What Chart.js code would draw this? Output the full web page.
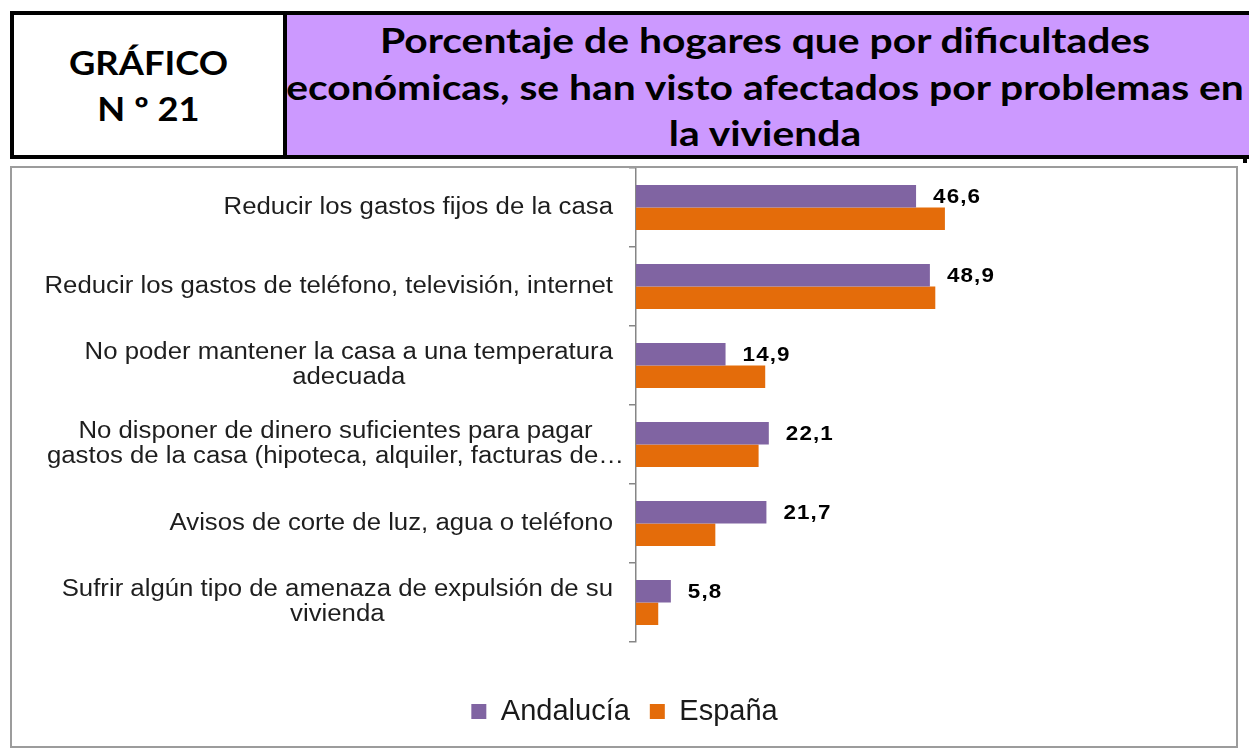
<!DOCTYPE html>
<html>
<head>
<meta charset="utf-8">
<script src="https://cdn.jsdelivr.net/npm/chart.js@4"></script>
<style>
  body { margin: 0; background: #fff; width: 1249px; height: 749px; overflow: hidden; position: relative; }
  #hdr { position: absolute; left: 10px; top: 11px; width: 1260px; height: 140px; border: 4px solid #000; display: flex; }
  #num { width: 269px; display: flex; align-items: center; justify-content: center; text-align: center;
         font: bold 33px Lato, sans-serif; line-height: 46px; color: #000; transform: scaleX(1.1); }
  #ttl { flex: 1; background: #cc99ff; border-left: 4px solid #000; position: relative; }
  #ttl div { position: absolute; left: 0; width: 956px; top: 2px; text-align: center; white-space: nowrap;
             font: bold 34px Lato, sans-serif; line-height: 46.5px; color: #000; transform: scaleX(1.2); }
  #frame { position: absolute; left: 10px; top: 166px; width: 1224px; height: 578px; border: 2px solid #9c9c9c; }
  #box { position: absolute; left: 12px; top: 168px; width: 1225px; height: 577px; }
  #mark { position: absolute; left: 1243px; top: 155px; width: 4px; height: 8px; background: #000; }
</style>
</head>
<body>
<div id="hdr">
  <div id="num">GRÁFICO<br>N º 21</div>
  <div id="ttl"><div>Porcentaje de hogares que por dificultades<br>económicas, se han visto afectados por problemas en<br>la vivienda</div></div>
</div>
<div id="mark"></div>
<div id="frame"></div>
<div id="box"><canvas id="chart"></canvas></div>
<script>
const categories = [
    ["Reducir los gastos fijos de la casa"],
    ["Reducir los gastos de teléfono, televisión, internet"],
    ["No poder mantener la casa a una temperatura", "adecuada"],
    ["No disponer de dinero suficientes para pagar", "gastos de la casa (hipoteca, alquiler, facturas de…"],
    ["Avisos de corte de luz, agua o teléfono"],
    ["Sufrir algún tipo de amenaza de expulsión de su", "vivienda"]
];
const andalucia = [46.6, 48.9, 14.9, 22.1, 21.7, 5.8];
const espana    = [51.4, 49.8, 21.5, 20.4, 13.2, 3.7];
const seriesNames = ["Andalucía", "España"];

const STRETCH = 1.12;

// category labels: right-aligned blocks, lines centred inside each block
const catLabels = {
    id: "catLabels",
    afterDraw(chart) {
        const ctx = chart.ctx, y = chart.scales.y;
        const right = 601, lineH = 25;
        ctx.save();
        ctx.font = "23px 'Liberation Sans', Arial, sans-serif";
        ctx.fillStyle = "#1e1e1e";
        ctx.textAlign = "center";
        ctx.textBaseline = "middle";
        categories.forEach((lines, i) => {
            let w = Math.max(...lines.map(l => ctx.measureText(l).width * STRETCH));
            if (lines.length > 1) w = Math.min(w, 555);   // wrapped text overflows the label area
            const cx = right - w / 2;
            const cy = y.getPixelForValue(i);
            lines.forEach((l, j) => {
                ctx.save();
                ctx.translate(cx, cy + (j - (lines.length - 1) / 2) * lineH);
                ctx.scale(STRETCH, 1);
                ctx.fillText(l, 0, 0);
                ctx.restore();
            });
        });
        ctx.restore();
    }
};

// value labels next to the Andalucía bars
const valueLabels = {
    id: "valueLabels",
    afterDatasetsDraw(chart) {
        const ctx = chart.ctx;
        ctx.save();
        ctx.font = "bold 20px 'Liberation Sans', Arial, sans-serif";
        ctx.letterSpacing = "1px";
        ctx.fillStyle = "#000";
        ctx.textAlign = "left";
        ctx.textBaseline = "middle";
        chart.getDatasetMeta(0).data.forEach((bar, i) => {
            ctx.save();
            ctx.translate(bar.x + 17, bar.y + 1);
            ctx.scale(STRETCH, 1);
            ctx.fillText(andalucia[i].toFixed(1).replace(".", ","), 0, 0);
            ctx.restore();
        });
        ctx.restore();
    }
};

new Chart(document.getElementById("chart"), {
    type: "bar",
    data: {
        labels: categories,
        datasets: [
            { label: seriesNames[0], data: andalucia, backgroundColor: "#8064a2" },
            { label: seriesNames[1], data: espana,    backgroundColor: "#e46c0a" }
        ]
    },
    options: {
        indexAxis: "y",
        responsive: true, maintainAspectRatio: false, animation: false,
        datasets: { bar: { categoryPercentage: 0.57, barPercentage: 1.0 } },
        layout: { padding: { left: 0, top: 0, right: 0, bottom: 9 } },
        plugins: {
            tooltip: { enabled: false },
            legend: {
                position: "bottom",
                labels: {
                    font: { family: "'Liberation Sans', Arial, sans-serif", size: 29 },
                    color: "#1a1a1a", boxWidth: 15, boxHeight: 15, padding: 20
                }
            }
        },
        scales: {
            x: {
                min: 0, max: 100,
                grid: { display: false }, border: { display: false }, ticks: { display: false },
                afterFit: s => { s.height = 35; }
            },
            y: {
                grid: { drawOnChartArea: false, tickLength: 7, color: "#868686", lineWidth: 1.5 },
                border: { color: "#868686", width: 1.5 },
                ticks: { display: false },
                afterFit: s => { s.width = 624; }
            }
        }
    },
    plugins: [catLabels, valueLabels]
});
</script>
</body>
</html>
